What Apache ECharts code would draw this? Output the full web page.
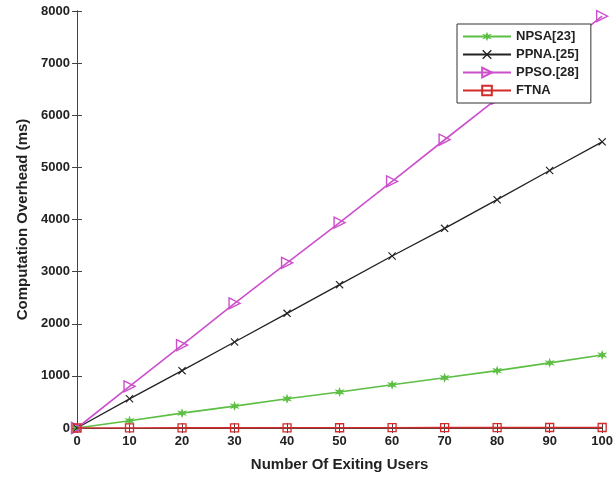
<!DOCTYPE html>
<html><head><meta charset="utf-8">
<script src="https://cdn.jsdelivr.net/npm/echarts@6/dist/echarts.min.js"></script>
<style>html,body{margin:0;padding:0;background:#fff}#c{width:616px;height:481px}</style>
</head><body><div id="c"></div>
<script>
var users = [0,10,20,30,40,50,60,70,80,90,100];
var npsa = [0,140,285,420,560,690,830,965,1100,1250,1400];
var ppna = [0,560,1100,1650,2200,2750,3300,3830,4380,4940,5490];
var ppso = [0,800,1590,2390,3170,3940,4730,5530,6320,7110,7900];
var ftna = [0,1,2,3,4,5,6,7,8,10,10];
var seriesNames = ['NPSA[23]','PPNA.[25]','PPSO.[28]','FTNA'];
var yTicks = {min:0,max:8000,interval:1000};
var xTicks = {min:0,max:100,interval:10};

function pts(arr){return users.map(function(u,i){return [u,arr[i]];});}
var font = '"Liberation Sans", Arial, sans-serif';
var starPath = 'path://M5,0L6.2,3.3L9.8,2.2L7.4,5L9.8,7.8L6.2,6.7L5,10L3.8,6.7L0.2,7.8L2.6,5L0.2,2.2L3.8,3.3Z';
var xPath = 'path://M0,1L1,0L5,4L9,0L10,1L6,5L10,9L9,10L5,6L1,10L0,9L4,5Z';

var chart = echarts.init(document.getElementById('c'));
var axisLine = {show:true,lineStyle:{color:'#444',width:1}};
var tick = {show:true,inside:true,length:5,lineStyle:{color:'#444'}};
chart.setOption({
  animation:false,
  backgroundColor:'#fff',
  grid:{left:77,right:11,top:11,bottom:53,containLabel:false},
  legend:{
    orient:'vertical',left:457,top:24,
    backgroundColor:'#fff',borderColor:'#333',borderWidth:1,
    padding:[6,12,6,5],itemGap:5,itemWidth:48,itemHeight:12,
    textStyle:{fontFamily:font,fontWeight:'bold',fontSize:13,color:'#222'},
    data:seriesNames
  },
  xAxis:[{
    type:'value',min:xTicks.min,max:xTicks.max,interval:xTicks.interval,
    name:'Number Of Exiting Users',nameLocation:'middle',nameGap:29,
    nameTextStyle:{fontFamily:font,fontWeight:'bold',fontSize:15,color:'#222'},
    axisLine:axisLine,axisTick:tick,splitLine:{show:false},
    axisLabel:{fontFamily:font,fontWeight:'bold',fontSize:13,color:'#222',margin:7}
  },{
    type:'value',position:'top',min:xTicks.min,max:xTicks.max,interval:xTicks.interval,
    axisLine:axisLine,axisTick:tick,axisLabel:{show:false},splitLine:{show:false}
  }],
  yAxis:[{
    type:'value',min:yTicks.min,max:yTicks.max,interval:yTicks.interval,
    name:'Computation Overhead (ms)',nameLocation:'middle',nameGap:44,
    nameTextStyle:{fontFamily:font,fontWeight:'bold',fontSize:15,color:'#222'},
    axisLine:axisLine,axisTick:tick,splitLine:{show:false},
    axisLabel:{fontFamily:font,fontWeight:'bold',fontSize:13,color:'#222',margin:7,
      formatter:function(v){return String(v);}}
  },{
    type:'value',position:'right',min:yTicks.min,max:yTicks.max,interval:yTicks.interval,
    axisLine:axisLine,axisTick:tick,axisLabel:{show:false},splitLine:{show:false}
  }],
  series:[
    {name:seriesNames[0],type:'line',data:pts(npsa),symbol:starPath,symbolSize:10,
     lineStyle:{color:'#5cbf44',width:1.6},itemStyle:{color:'#5cbf44'},z:3},
    {name:seriesNames[1],type:'line',data:pts(ppna),symbol:xPath,symbolSize:8,
     lineStyle:{color:'#222',width:1.3},itemStyle:{color:'#222'},z:3},
    {name:seriesNames[2],type:'line',data:pts(ppso),symbol:'triangle',symbolRotate:-90,symbolSize:11,
     lineStyle:{color:'#cc4fcc',width:1.6},itemStyle:{color:'rgba(255,255,255,0)',borderColor:'#cc4fcc',borderWidth:1.4},z:3},
    {name:seriesNames[3],type:'line',data:pts(ftna),symbol:'rect',symbolSize:8,
     lineStyle:{color:'#d42a2a',width:1.6},itemStyle:{color:'rgba(255,255,255,0)',borderColor:'#d42a2a',borderWidth:1.3},z:4}
  ]
});
</script></body></html>
